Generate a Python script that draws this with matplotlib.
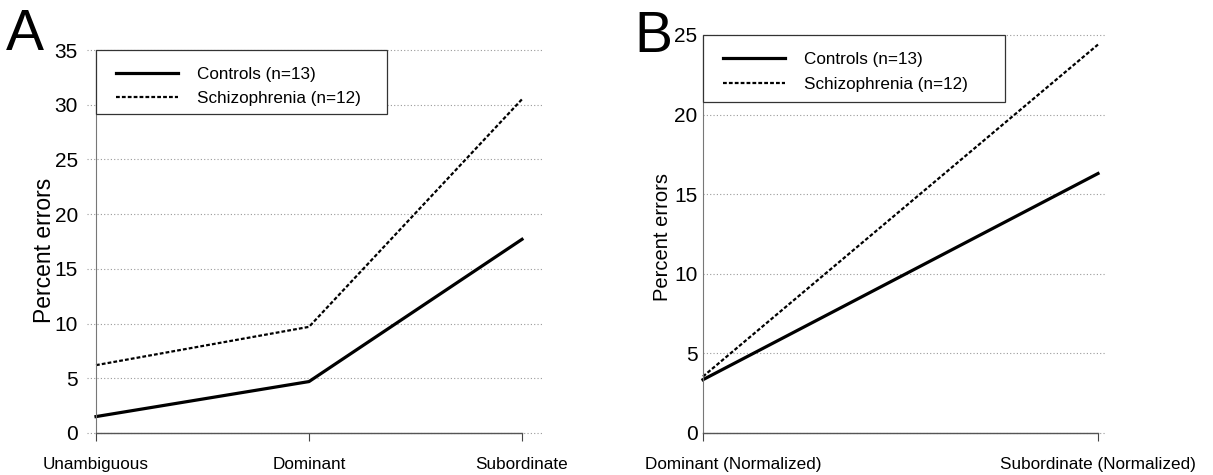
import matplotlib
matplotlib.use("Agg")
import matplotlib.pyplot as plt
import matplotlib.transforms as mtransforms
from matplotlib.patches import Rectangle

plt.rcParams['font.family'] = ['Liberation Sans', 'DejaVu Sans']

# Panel A data
cats_a = ["Unambiguous", "Dominant", "Subordinate"]
controls_a = [1.5, 4.7, 17.7]
schiz_a = [6.2, 9.7, 30.5]
yticks_a = [0, 5, 10, 15, 20, 25, 30, 35]

# Panel B data
cats_b = ["Dominant (Normalized)", "Subordinate (Normalized)"]
controls_b = [3.35, 16.3]
schiz_b = [3.55, 24.4]
yticks_b = [0, 5, 10, 15, 20, 25]

labels = ["Controls (n=13)", "Schizophrenia (n=12)"]

fig = plt.figure(figsize=(12.13, 4.75), dpi=100)
# pixel geometry: A axis x 96..522, y 433..50 ; B axis x 703..1098, y 433..35
axA = fig.add_axes([96 / 1213, 1 - 433 / 475, 426 / 1213, 383 / 475])
axB = fig.add_axes([703 / 1213, 1 - 433 / 475, 395 / 1213, 398 / 475])

def style(ax, cats, yticks, ypad, grid_x, ylab_size, ylab_pos):
    ax.set_xlim(0, len(cats) - 1)
    ax.set_ylim(0, yticks[-1])
    ax.set_xticks(range(len(cats)))
    ax.set_xticklabels(cats, fontsize=12.3)
    ax.set_yticks(yticks)
    ax.tick_params(axis='y', length=0, labelsize=15, pad=ypad)
    ax.tick_params(axis='x', length=6, width=0.8, direction='out', pad=11, colors='#444444',
                   labelcolor='black')
    for s in ['top', 'right']:
        ax.spines[s].set_visible(False)
    ax.spines['left'].set_color('#777777')
    ax.spines['left'].set_linewidth(0.8)
    ax.spines['bottom'].set_color('#555555')
    ax.spines['bottom'].set_linewidth(1.0)
    ax.hlines(yticks, grid_x[0], grid_x[1], colors='#9a9a9a', linestyles=(0, (1, 2)),
              linewidth=0.8, clip_on=False, zorder=0)
    ax.set_ylabel("Percent errors", fontsize=ylab_size)
    ax.yaxis.set_label_coords(*ylab_pos)

style(axA, cats_a, yticks_a, 13, (-0.04, 2.1), 16.5, (-0.094, 0.478))
style(axB, cats_b, yticks_b, 4, (0.0, 1.02), 14.5, (-0.078, 0.492))

legend_geom = {
    # rectangle (x0, y0), w, h in axes coords, legend anchor
    'A': ((0, 0.833), 0.683, 0.167, (20 / 426, 0.956)),
    'B': ((0, 0.832), 0.765, 0.168, (20 / 395, 0.957)),
}

for key, ax, c, s in [('A', axA, controls_a, schiz_a), ('B', axB, controls_b, schiz_b)]:
    xs = list(range(len(c)))
    ax.plot(xs, c, color='black', linewidth=2.3, solid_joinstyle='round', label=labels[0], clip_on=False)
    ax.plot(xs, s, color='black', linewidth=1.6, linestyle=(0, (1.7, 0.95)), label=labels[1], clip_on=False)
    (x0, y0), w, h, anchor = legend_geom[key]
    ax.add_patch(Rectangle((x0, y0), w, h, transform=ax.transAxes, facecolor='white',
                           edgecolor='#333333', linewidth=0.9, zorder=4, clip_on=False))
    leg = ax.legend(loc='upper left', bbox_to_anchor=anchor, borderaxespad=0, borderpad=0,
                    frameon=False, fontsize=12.3, handlelength=3.6, handletextpad=1.15,
                    labelspacing=0.55)
    leg.set_zorder(5)

# shift first tick label of panel B to the right
offset = mtransforms.ScaledTranslation(30 / 100, 0, fig.dpi_scale_trans)
lbl = axB.get_xticklabels()[0]
lbl.set_transform(lbl.get_transform() + offset)

fig.text(6 / 1213, 1 - 50 / 475, "A", fontsize=41, va='baseline')
fig.text(634 / 1213, 1 - 52 / 475, "B", fontsize=41, va='baseline')

fig.savefig("out.png", dpi=100)
